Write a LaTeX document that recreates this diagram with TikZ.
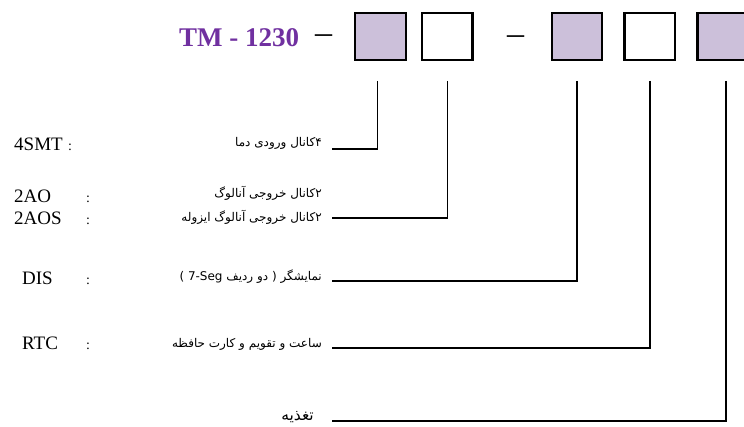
\documentclass[tikz,border=0pt]{standalone}
\usepackage{fontspec}
\setmainfont{Liberation Serif}
\newfontfamily\farsi[Script=Arabic]{DejaVu Sans}
\TeXXeTstate=1
\usetikzlibrary{positioning}
\definecolor{lilac}{HTML}{CCC0DA}
\definecolor{tmpurple}{HTML}{7030A0}

\begin{document}
\begin{tikzpicture}[x=1pt, y=-1pt,
    slot/.style={draw, line width=2.4pt, outer sep=1.2pt, minimum width=50.5pt, minimum height=46.5pt, inner sep=0pt},
    filled/.style={slot, fill=lilac},
    lead/.style={line width=1.8pt},
    code/.style={anchor=base west, inner sep=0pt, font=\fontsize{19}{19}\selectfont},
    colon/.style={anchor=base, inner sep=0pt, font=\fontsize{14}{14}\selectfont},
    fa/.style={anchor=base east, inner sep=0pt, font=\farsi\fontsize{12}{14}\selectfont},
    sep/.style={anchor=north, inner sep=0pt, font=\fontsize{34}{34}\selectfont}]
  \useasboundingbox (0,0) rectangle (744,426);

  % part number
  \node[anchor=base west, inner sep=0pt, text=tmpurple, font=\bfseries\fontsize{27}{27}\selectfont] (title) at (179,46) {TM - 1230};
  \node[sep] (dasha) at (323.5,35) {–};
  \node[filled] (d1) at (380.5,36.5) {};
  \node[slot, right=14pt of d1] (d2) {};
  \node[sep] (dashb) at (515.5,36) {–};
  \node[filled] (d3) at (577,36.5) {};
  \node[slot, right=20pt of d3] (d4) {};
  \node[filled, right=20pt of d4] (d5) {};

  % lead ends
  \coordinate (e1) at (332,149);
  \coordinate (e2) at (332,218);
  \coordinate (e3) at (332,281);
  \coordinate (e4) at (332,348);
  \coordinate (e5) at (332,421);
  \draw[lead] ([xshift=-3pt, yshift=-20pt]d1.south) |- (e1);
  \draw[lead] ([yshift=-20pt]d2.south) |- (e2);
  \draw[lead] ([yshift=-20pt]d3.south) |- (e3);
  \draw[lead] ([yshift=-20pt]d4.south) |- (e4);
  \draw[lead] ([xshift=3pt, yshift=-20pt]d5.south) |- (e5);

  % codes
  \node[code] (smt) at (14,150) {4SMT};
  \node[colon] (smtc) at (70,150) {:};
  \node[code] (ao) at (14,202) {2AO};
  \node[colon] (aoc) at (88,202) {:};
  \node[code] (aos) at (14,224) {2AOS};
  \node[colon] (aosc) at (88,224) {:};
  \node[code] (dis) at (22,284) {DIS};
  \node[colon] (disc) at (88,284) {:};
  \node[code] (rtc) at (22,349) {RTC};
  \node[colon] (rtcc) at (88,349) {:};

  % descriptions
  \node[fa] (smt-fa) at (322,146) {\beginR ۴کانال ورودی دما\endR};
  \node[fa] (ao-fa) at (322,197) {\beginR ۲کانال خروجی آنالوگ\endR};
  \node[fa] (aos-fa) at (322,221) {\beginR ۲کانال خروجی آنالوگ ایزوله\endR};
  \node[fa] (dis-fa) at (322,280) {\beginR نمایشگر ( دو ردیف \beginL 7-Seg\endL{} )\endR};
  \node[fa] (rtc-fa) at (322,347) {\beginR ساعت و تقویم و کارت حافظه\endR};
  \node[fa, font=\farsi\fontsize{15.5}{17}\selectfont] (pwr-fa) at (314,420) {\beginR تغذیه\endR};
\end{tikzpicture}
\end{document}
